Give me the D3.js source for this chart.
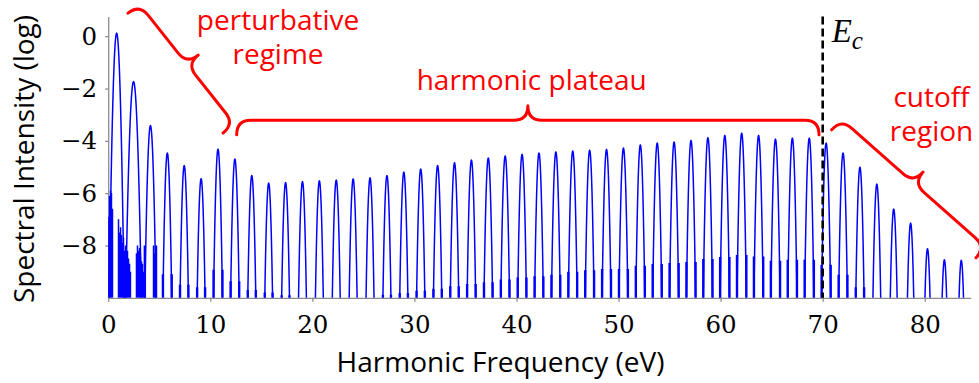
<!DOCTYPE html>
<html>
<head>
<meta charset="utf-8">
<script src="https://cdn.jsdelivr.net/npm/d3@7"></script>
<style>
  body { margin: 0; background: #fff; }
  svg { display: block; }
</style>
</head>
<body>
<svg id="chart" width="979" height="383"></svg>
<script>
// ---- data -------------------------------------------------------------
// Fundamental photon energy (eV); harmonics sit at odd multiples of it.
const photonEnergy = 0.8275;

// Odd harmonic orders shown in the spectrum.
const harmonicOrders = [1, 3, 5, 7, 9, 11, 13, 15, 17, 19, 21, 23, 25, 27, 29, 31, 33,
  35, 37, 39, 41, 43, 45, 47, 49, 51, 53, 55, 57, 59, 61, 63, 65, 67, 69, 71, 73, 75,
  77, 79, 81, 83, 85, 87, 89, 91, 93, 95, 97, 99, 101];

// Peak spectral intensity (log10) of each harmonic.
const peakLevels = [0.11, -1.74, -3.42, -4.47, -4.95, -5.45, -4.32, -4.70, -5.33, -5.62,
  -5.60, -5.56, -5.53, -5.50, -5.46, -5.42, -5.33, -5.20, -5.08, -4.95, -4.84, -4.74,
  -4.66, -4.58, -4.52, -4.47, -4.43, -4.39, -4.36, -4.33, -4.28, -4.16, -4.09, -4.05,
  -3.99, -3.88, -3.80, -3.71, -3.80, -3.94, -3.90, -3.90, -4.09, -4.47, -5.01, -5.66,
  -6.61, -7.15, -8.13, -8.55, -8.57];

// Level (log10) of the weak shoulders at the base of each harmonic (-10 = none).
const footLevels = [-10, -10, -8.0, -9.1, -9.5, -9.6, -8.93, -9.37, -9.7, -9.8,
  -9.9, -10, -10, -10, -10, -10, -9.88, -9.82, -9.73, -9.65, -9.56, -9.47,
  -9.41, -9.3, -9.22, -9.18, -9.12, -9.0, -8.95, -8.9, -8.9, -8.77, -8.71, -8.67,
  -8.63, -8.52, -8.44, -8.36, -8.42, -8.58, -8.55, -8.55, -8.74, -9.12, -9.6, -10,
  -10, -10, -10, -10, -10];

// Low-energy background spikes: [energy eV, log10 intensity].
const lowNoise = [
  [0.03, -6.9], [0.13, -6.1], [0.23, -5.9], [0.32, -6.0], [0.42, -6.6],
  [1.01, -7.0], [1.11, -7.5], [1.21, -7.3], [1.30, -7.6], [1.40, -7.9], [1.50, -7.7],
  [1.60, -8.2], [1.70, -8.0], [1.79, -8.3], [1.89, -8.2], [1.99, -8.5], [2.09, -8.7],
  [2.18, -9.0],
  [2.77, -8.3], [2.87, -8.0], [2.97, -8.2], [3.07, -8.1], [3.16, -8.4], [3.26, -8.6],
  [3.36, -8.7], [3.46, -9.0], [3.56, -9.3],
  [4.44, -8.0], [4.54, -8.3]
];

const xTicks = [0, 10, 20, 30, 40, 50, 60, 70, 80];
const yTicks = [0, -2, -4, -6, -8];

// Cutoff energy marker (eV).
const cutoffEnergy = 70;

// Regimes marked by braces: energy/level anchors of each brace end and label.
const regimeNames = [["perturbative", "regime"], ["harmonic plateau"], ["cutoff", "region"]];
const braceStart = [[1.94, 0.88], [12.59, -3.77], [70.88, -3.58]];
const braceEnd = [[11.25, -3.70], [69.64, -3.77], [85.02, -8.47]];
const labelAnchor = [[16.64, 0.25], [41.49, -2.06], [80.66, -2.70]];

// ---- scales -----------------------------------------------------------
const floorLevel = -10;
const x = d3.scaleLinear().domain([0, 84.5]).range([108.2, 970.7]);
const y = d3.scaleLinear().domain([floorLevel, 0.75]).range([297.8, 16.6]);

const svg = d3.select("#chart");
const axisColor = "#8c8c8c";
const red = "#ff0000";
const blue = "#0000ff";

svg.append("defs").append("clipPath").attr("id", "plotClip")
  .append("rect")
  .attr("x", x(0)).attr("y", y(0.75) - 2)
  .attr("width", x(84.5) - x(0)).attr("height", y(floorLevel) - y(0.75) + 2);

// ---- axes -------------------------------------------------------------
const xAxis = svg.append("g")
  .attr("transform", `translate(0,${y(floorLevel)})`)
  .call(d3.axisBottom(x).tickValues(xTicks).tickSize(4).tickSizeOuter(0)
    .tickPadding(14).tickFormat(d3.format("d")));

const yAxis = svg.append("g")
  .attr("transform", `translate(${x(0)},0)`)
  .call(d3.axisLeft(y).tickValues(yTicks).tickSize(3).tickSizeOuter(0)
    .tickPadding(8).tickFormat(d3.format("d")));

[xAxis, yAxis].forEach(g => {
  g.select(".domain").attr("stroke", axisColor).attr("stroke-width", 1.3);
  g.selectAll(".tick line").attr("stroke", axisColor).attr("stroke-width", 1.3);
  g.selectAll(".tick text")
    .attr("fill", "#000")
    .style("font-family", "'DejaVu Serif', serif")
    .style("font-size", "24.5px");
});

// ---- spectrum ---------------------------------------------------------
const plot = svg.append("g").attr("clip-path", "url(#plotClip)");
const line = d3.line().x(d => x(d[0])).y(d => y(d[1]));

// Curvature of each harmonic line in log space (the lowest orders are broader).
const curvatureFor = order => ({ 1: 19, 3: 14, 5: 22 }[order] || 30);

const harmonics = harmonicOrders.map((order, i) => ({
  order,
  center: order * photonEnergy,
  level: peakLevels[i],
  foot: footLevels[i],
  a: curvatureFor(order)
}));

// Each harmonic: a log-space parabola reaching down past the floor.
plot.selectAll("path.harmonic")
  .data(harmonics)
  .join("path")
  .attr("class", "harmonic")
  .attr("fill", "none")
  .attr("stroke", blue)
  .attr("stroke-width", 1.5)
  .attr("d", h => {
    const reach = Math.sqrt((h.level - (floorLevel - 0.4)) / h.a);
    const pts = d3.range(0, 81).map(k => {
      const dE = -reach + (2 * reach * k) / 80;
      return [h.center + dE, h.level - h.a * dE * dE];
    });
    return line(pts);
  });

// Shoulders at the base of each harmonic.
const feet = [];
harmonics.forEach(h => {
  if (h.foot > floorLevel) {
    const half = Math.sqrt((h.level - floorLevel) / h.a);
    feet.push([h.center - half, h.foot], [h.center + half, h.foot]);
  }
});
plot.selectAll("line.foot")
  .data(feet)
  .join("line")
  .attr("class", "foot")
  .attr("x1", d => x(d[0])).attr("x2", d => x(d[0]))
  .attr("y1", y(floorLevel)).attr("y2", d => y(d[1]))
  .attr("stroke", blue)
  .attr("stroke-width", 2.4);

// Low-energy background spikes.
plot.selectAll("line.noise")
  .data(lowNoise)
  .join("line")
  .attr("class", "noise")
  .attr("x1", d => x(d[0])).attr("x2", d => x(d[0]))
  .attr("y1", y(floorLevel)).attr("y2", d => y(d[1]))
  .attr("stroke", blue)
  .attr("stroke-width", 1.5);

// ---- cutoff marker ----------------------------------------------------
svg.append("line")
  .attr("x1", x(cutoffEnergy)).attr("x2", x(cutoffEnergy))
  .attr("y1", y(0.75)).attr("y2", y(floorLevel))
  .attr("stroke", "#000")
  .attr("stroke-width", 2.6)
  .attr("stroke-dasharray", "8,4");

const ec = svg.append("text")
  .attr("x", x(cutoffEnergy) + 9)
  .attr("y", y(-0.21))
  .style("font-family", "'Liberation Serif', serif")
  .style("font-style", "italic")
  .style("font-size", "33px")
  .attr("fill", "#000");
ec.append("tspan").text("E");
ec.append("tspan").attr("dy", 7).style("font-size", "25px").text("c");

// ---- braces and labels ------------------------------------------------
function bracePath(p1, p2, depth, curl) {
  const dx = p2[0] - p1[0], dy = p2[1] - p1[1];
  const len = Math.hypot(dx, dy);
  const ux = dx / len, uy = dy / len;
  const nx = uy, ny = -ux;
  const P = (s, t) => [p1[0] + s * ux + t * nx, p1[1] + s * uy + t * ny];
  const h = depth / 2, m = len / 2;
  const p = d3.path();
  p.moveTo(...P(0, 0));
  p.quadraticCurveTo(...P(0, h), ...P(curl, h));
  p.lineTo(...P(m - curl, h));
  p.quadraticCurveTo(...P(m, h), ...P(m, depth));
  p.quadraticCurveTo(...P(m, h), ...P(m + curl, h));
  p.lineTo(...P(len - curl, h));
  p.quadraticCurveTo(...P(len, h), ...P(len, 0));
  return p.toString();
}

regimeNames.forEach((names, i) => {
  const p1 = [x(braceStart[i][0]), y(braceStart[i][1])];
  const p2 = [x(braceEnd[i][0]), y(braceEnd[i][1])];
  svg.append("path")
    .attr("d", bracePath(p1, p2, 29, 14))
    .attr("fill", "none")
    .attr("stroke", red)
    .attr("stroke-width", 3)
    .attr("stroke-linecap", "round")
    .attr("stroke-linejoin", "round");

  const t = svg.append("text")
    .attr("x", x(labelAnchor[i][0]))
    .attr("y", y(labelAnchor[i][1]))
    .attr("text-anchor", "middle")
    .attr("fill", red)
    .style("font-family", "'Open Sans', sans-serif")
    .style("font-size", "28px");
  names.forEach((n, k) => {
    t.append("tspan")
      .attr("x", x(labelAnchor[i][0]))
      .attr("dy", k === 0 ? 0 : 34.5)
      .text(n);
  });
});

// ---- axis titles ------------------------------------------------------
svg.append("text")
  .attr("x", 500.5)
  .attr("y", 371.5)
  .attr("text-anchor", "middle")
  .style("font-family", "'Open Sans', sans-serif")
  .style("font-size", "28px")
  .attr("fill", "#000")
  .text("Harmonic Frequency (eV)");

svg.append("text")
  .attr("transform", "translate(34,159) rotate(-90)")
  .attr("text-anchor", "middle")
  .style("font-family", "'Open Sans', sans-serif")
  .style("font-size", "28px")
  .attr("fill", "#000")
  .text("Spectral Intensity (log)");
</script>
</body>
</html>
